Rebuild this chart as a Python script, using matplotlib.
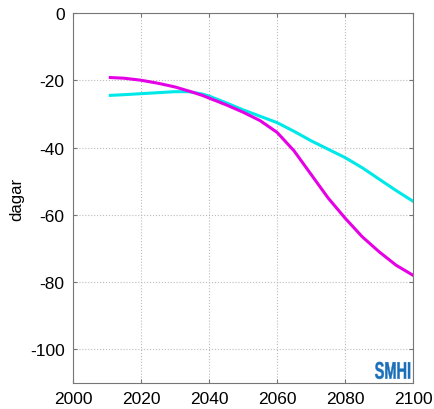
import numpy as np
import matplotlib
matplotlib.use("Agg")
import matplotlib.pyplot as plt
from matplotlib.textpath import TextPath
from matplotlib.patches import PathPatch
from matplotlib.font_manager import FontProperties
from matplotlib.transforms import Affine2D

plt.rcParams['font.family'] = ['Liberation Sans', 'DejaVu Sans']
plt.rcParams['axes.unicode_minus'] = False

# Change in number of days, two scenarios
years_m = [2011, 2015, 2020, 2025, 2030, 2035, 2038, 2040, 2045, 2050, 2055,
           2060, 2065, 2070, 2075, 2080, 2085, 2090, 2095, 2100]
magenta = [-19.2, -19.4, -20.0, -20.9, -22.0, -23.5, -24.5, -25.3, -27.3, -29.5, -32.0,
           -35.5, -41.0, -48.0, -55.0, -61.0, -66.5, -71.0, -75.0, -78.0]

years_c = [2011, 2015, 2020, 2025, 2030, 2034, 2038, 2040, 2045, 2050, 2055,
           2060, 2065, 2070, 2075, 2080, 2085, 2090, 2095, 2100]
cyan = [-24.5, -24.3, -24.0, -23.7, -23.4, -23.4, -24.1, -24.7, -26.7, -28.8, -30.7,
        -32.6, -35.2, -38.0, -40.5, -43.0, -46.0, -49.4, -52.8, -56.0]

xticks = [2000, 2020, 2040, 2060, 2080, 2100]
yticks = [0, -20, -40, -60, -80, -100]

fig = plt.figure(figsize=(4.34, 4.10), dpi=100)
ax = fig.add_axes([0.168, 0.0634, 0.784, 0.9026])

ax.plot(years_c, cyan, color='#00e8e8', linewidth=2.2)
ax.plot(years_m, magenta, color='#e600e6', linewidth=2.2)

ax.set_xlim(2000, 2100)
ax.set_ylim(-110, 0)
ax.set_xticks(xticks)
ax.set_yticks(yticks)
ax.tick_params(direction='in', top=True, right=True, labelsize=12.5,
               color='#777777', length=3, pad=6)
ax.grid(True, color='#bbbbbb', linestyle=':', linewidth=0.8)
for s in ax.spines.values():
    s.set_color('#777777')
    s.set_linewidth(0.8)

ax.set_ylabel('dagar', fontsize=12, labelpad=4)

# condensed bold logo in the lower right corner
tp = TextPath((0, 0), 'SMHI', size=10,
              prop=FontProperties(family='Liberation Sans', weight='bold'))
bb = tp.get_extents()
w_ax, h_ax = 35 / 340, 17 / 370
x1, y0 = 0.991, 0.011
tr = (Affine2D().translate(-bb.x0, -bb.y0)
      .scale(w_ax / bb.width, h_ax / bb.height)
      .translate(x1 - w_ax, y0))
ax.add_patch(PathPatch(tr.transform_path(tp), transform=ax.transAxes,
                       facecolor='#1a70b8', edgecolor='#1a70b8', linewidth=0.3))

fig.savefig('out.png', dpi=100)
